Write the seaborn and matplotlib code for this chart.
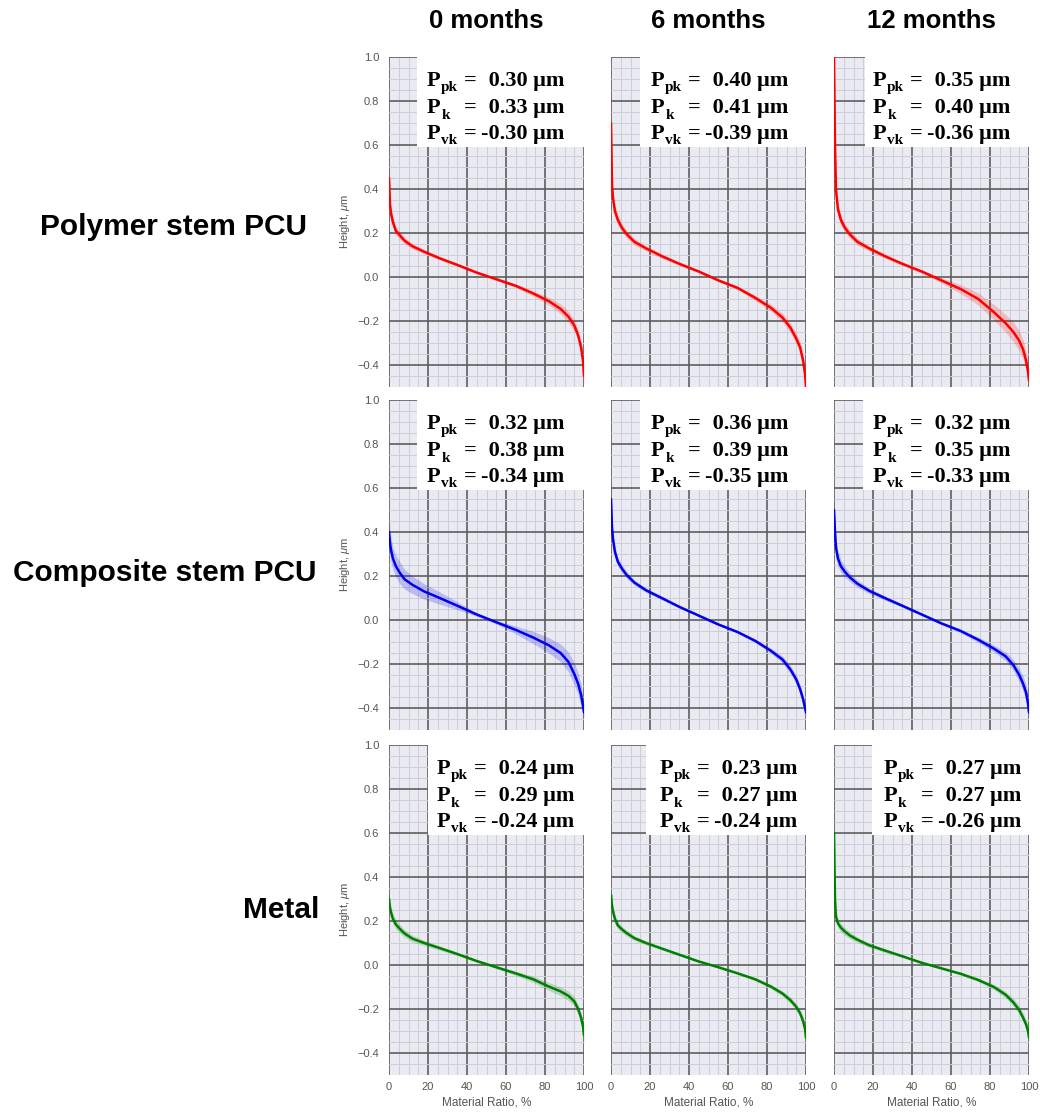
import matplotlib
matplotlib.use("Agg")
import matplotlib.pyplot as plt
import seaborn as sns
import pandas as pd
from matplotlib.ticker import MultipleLocator
from matplotlib.patches import Rectangle

# Material ratio positions (%) at which the mean bearing-area curves are sampled
MR = [0, 0.5, 1, 2, 3.5, 5.5, 8, 12, 18, 26, 35, 45, 55, 65, 74, 82, 88, 92, 95, 97, 98.5, 99.5, 100]

groups = ["Polymer stem PCU", "Composite stem PCU", "Metal"]
times = ["0 months", "6 months", "12 months"]
group_colors = ["#ff0000", "#0000ee", "#008000"]

# Mean height (um) and half-width of the shaded band, per group and time point
poly_0 = [0.45, 0.33, 0.29, 0.25, 0.21, 0.19, 0.165, 0.14, 0.115, 0.085, 0.055, 0.02, -0.01, -0.04, -0.075, -0.11, -0.145, -0.18, -0.22, -0.265, -0.32, -0.38, -0.45]
poly_0_band = [0.2, 0.05, 0.03, 0.025, 0.02, 0.018, 0.015, 0.012, 0.01, 0.008, 0.006, 0.005, 0.006, 0.008, 0.012, 0.018, 0.022, 0.025, 0.025, 0.025, 0.03, 0.04, 0.05]
poly_6 = [0.7, 0.42, 0.36, 0.30, 0.26, 0.225, 0.195, 0.16, 0.13, 0.095, 0.06, 0.025, -0.015, -0.05, -0.095, -0.14, -0.185, -0.23, -0.28, -0.32, -0.38, -0.44, -0.5]
poly_6_band = [0.3, 0.05, 0.035, 0.03, 0.025, 0.02, 0.018, 0.015, 0.012, 0.01, 0.008, 0.006, 0.006, 0.008, 0.012, 0.016, 0.02, 0.022, 0.025, 0.025, 0.025, 0.03, 0.03]
poly_12 = [1.0, 0.6, 0.4, 0.31, 0.26, 0.225, 0.195, 0.16, 0.13, 0.095, 0.06, 0.025, -0.015, -0.055, -0.1, -0.16, -0.21, -0.25, -0.29, -0.33, -0.38, -0.43, -0.47]
poly_12_band = [0.05, 0.05, 0.03, 0.03, 0.025, 0.02, 0.018, 0.015, 0.012, 0.01, 0.008, 0.008, 0.012, 0.02, 0.028, 0.035, 0.04, 0.045, 0.045, 0.045, 0.04, 0.04, 0.04]

comp_0 = [0.40, 0.35, 0.32, 0.28, 0.245, 0.215, 0.185, 0.16, 0.13, 0.10, 0.065, 0.025, -0.01, -0.045, -0.08, -0.115, -0.15, -0.19, -0.245, -0.29, -0.34, -0.39, -0.42]
comp_0_band = [0.08, 0.06, 0.055, 0.05, 0.05, 0.05, 0.045, 0.04, 0.035, 0.028, 0.018, 0.008, 0.008, 0.018, 0.028, 0.035, 0.04, 0.045, 0.05, 0.05, 0.05, 0.04, 0.03]
comp_6 = [0.55, 0.42, 0.37, 0.31, 0.265, 0.235, 0.205, 0.17, 0.135, 0.10, 0.06, 0.02, -0.02, -0.055, -0.095, -0.14, -0.18, -0.225, -0.27, -0.315, -0.36, -0.40, -0.42]
comp_6_band = [0.1, 0.04, 0.03, 0.025, 0.02, 0.018, 0.015, 0.012, 0.01, 0.008, 0.006, 0.005, 0.005, 0.006, 0.008, 0.012, 0.015, 0.018, 0.02, 0.02, 0.02, 0.02, 0.02]
comp_12 = [0.5, 0.40, 0.33, 0.28, 0.245, 0.22, 0.195, 0.165, 0.133, 0.10, 0.065, 0.025, -0.015, -0.05, -0.09, -0.13, -0.165, -0.205, -0.25, -0.29, -0.33, -0.38, -0.42]
comp_12_band = [0.08, 0.05, 0.04, 0.035, 0.03, 0.025, 0.02, 0.016, 0.012, 0.01, 0.007, 0.005, 0.006, 0.008, 0.012, 0.016, 0.02, 0.025, 0.03, 0.035, 0.035, 0.03, 0.03]

metal_0 = [0.30, 0.26, 0.24, 0.21, 0.185, 0.165, 0.143, 0.12, 0.10, 0.077, 0.05, 0.018, -0.01, -0.038, -0.065, -0.098, -0.12, -0.14, -0.165, -0.20, -0.24, -0.28, -0.32]
metal_0_band = [0.04, 0.03, 0.028, 0.025, 0.022, 0.02, 0.018, 0.015, 0.012, 0.01, 0.007, 0.005, 0.006, 0.01, 0.014, 0.018, 0.02, 0.022, 0.022, 0.022, 0.025, 0.03, 0.04]
metal_6 = [0.32, 0.27, 0.245, 0.21, 0.18, 0.163, 0.145, 0.122, 0.10, 0.075, 0.047, 0.016, -0.01, -0.038, -0.065, -0.098, -0.13, -0.16, -0.19, -0.22, -0.255, -0.29, -0.33]
metal_6_band = [0.04, 0.025, 0.022, 0.02, 0.017, 0.015, 0.013, 0.011, 0.009, 0.007, 0.005, 0.004, 0.004, 0.005, 0.007, 0.01, 0.012, 0.014, 0.015, 0.016, 0.02, 0.025, 0.03]
metal_12 = [0.6, 0.30, 0.22, 0.19, 0.17, 0.153, 0.135, 0.115, 0.09, 0.066, 0.04, 0.01, -0.015, -0.04, -0.068, -0.10, -0.135, -0.17, -0.205, -0.24, -0.27, -0.30, -0.33]
metal_12_band = [0.4, 0.04, 0.025, 0.022, 0.02, 0.018, 0.015, 0.012, 0.01, 0.008, 0.006, 0.004, 0.004, 0.006, 0.008, 0.012, 0.015, 0.018, 0.02, 0.02, 0.02, 0.025, 0.03]

curves = [[poly_0, poly_6, poly_12], [comp_0, comp_6, comp_12], [metal_0, metal_6, metal_12]]
bands = [[poly_0_band, poly_6_band, poly_12_band],
         [comp_0_band, comp_6_band, comp_12_band],
         [metal_0_band, metal_6_band, metal_12_band]]

# Functional roughness parameters (um)
Ppk = [[0.30, 0.40, 0.35], [0.32, 0.36, 0.32], [0.24, 0.23, 0.27]]
Pk = [[0.33, 0.41, 0.40], [0.38, 0.39, 0.35], [0.29, 0.27, 0.27]]
Pvk = [[-0.30, -0.39, -0.36], [-0.34, -0.35, -0.33], [-0.24, -0.24, -0.26]]
param_subscripts = ["pk", "k", "vk"]

sns.set_theme(style="darkgrid")
plt.rcParams["font.family"] = ["Liberation Sans", "DejaVu Sans"]
plt.rcParams["mathtext.fontset"] = "custom"
plt.rcParams["mathtext.rm"] = "Liberation Sans"
plt.rcParams["mathtext.it"] = "Liberation Sans:italic"
plt.rcParams["text.color"] = "black"

W, H = 1040, 1119
fig = plt.figure(figsize=(W / 100, H / 100), dpi=100)

col_left = [389, 611, 834]
row_top = [57, 400, 745]
ax_w, ax_h = 195, 330

# left edge of the white parameter box and of its text (axes fraction)
box_left = [[0.144, 0.15, 0.16], [0.144, 0.15, 0.15], [0.20, 0.18, 0.195]]
text_left = [[0.195, 0.205, 0.20], [0.195, 0.205, 0.20], [0.245, 0.25, 0.255]]

serif = dict(family="Liberation Serif", fontweight="bold", color="black")
tick_color = "#555555"

for r in range(3):
    for c in range(3):
        ax = fig.add_axes([col_left[c] / W, 1 - (row_top[r] + ax_h) / H, ax_w / W, ax_h / H])
        ax.set_facecolor("#eaeaf2")
        df = pd.DataFrame({"mr": MR, "h": curves[r][c]})
        lo = [m - b for m, b in zip(curves[r][c], bands[r][c])]
        hi = [m + b for m, b in zip(curves[r][c], bands[r][c])]
        ax.fill_between(MR, lo, hi, color=group_colors[r], alpha=0.2, lw=0, zorder=2)
        sns.lineplot(data=df, x="mr", y="h", ax=ax, color=group_colors[r], lw=1.8, zorder=3)

        ax.set_xlim(0, 100)
        ax.set_ylim(-0.5, 1.0)
        ax.xaxis.set_major_locator(MultipleLocator(20))
        ax.xaxis.set_minor_locator(MultipleLocator(5))
        ax.yaxis.set_major_locator(MultipleLocator(0.2))
        ax.yaxis.set_minor_locator(MultipleLocator(0.05))
        ax.grid(which="major", color="#5e5e5e", lw=1.2)
        ax.grid(which="minor", color="#cdcdd9", lw=0.7)
        ax.set_axisbelow(True)
        for s in ax.spines.values():
            s.set_visible(False)
        ax.tick_params(which="both", length=0, labelsize=8, labelcolor=tick_color, pad=7)

        if c == 0:
            ax.set_ylabel(r"Height, $\mu$m", fontsize=8, color=tick_color, labelpad=4)
        else:
            ax.set_ylabel("")
            ax.set_yticklabels([])
        if r == 2:
            ax.set_xlabel("Material Ratio, %", fontsize=8.5, color=tick_color, labelpad=3)
            ax.tick_params(axis="x", pad=5)
        else:
            ax.set_xlabel("")
            ax.set_xticklabels([])

        # white parameter box
        bx = box_left[r][c]
        ax.add_patch(Rectangle((bx, 0.727), 1 - bx, 0.273, transform=ax.transAxes,
                               facecolor="white", edgecolor="none", zorder=5))
        tx = text_left[r][c]
        values = [Ppk[r][c], Pk[r][c], Pvk[r][c]]
        baselines = [0.913, 0.830, 0.753]
        for sub, val, yb in zip(param_subscripts, values, baselines):
            ax.text(tx, yb, "P", transform=ax.transAxes, va="baseline", ha="left",
                    zorder=6, fontsize=16, **serif)
            ax.text(tx + 0.073, yb - 0.017, sub, transform=ax.transAxes, va="baseline",
                    ha="left", zorder=6, fontsize=11, **serif)
            ax.text(tx + 0.19, yb, "=", transform=ax.transAxes, va="baseline",
                    ha="left", zorder=6, fontsize=16, **serif)
            ax.text(tx + 0.705, yb, f"{val: .2f} \u03bcm", transform=ax.transAxes,
                    va="baseline", ha="right", zorder=6, fontsize=16, **serif)

# column headings
for c, t in enumerate(times):
    fig.text((col_left[c] + ax_w / 2) / W, 1 - 21 / H, t, ha="center", va="center",
             fontsize=18.5, fontweight="bold", color="black")

# row headings
row_label_x = [40, 13, 243]
row_label_y = [227, 573, 910]
for g, x, y in zip(groups, row_label_x, row_label_y):
    fig.text(x / W, 1 - y / H, g, ha="left", va="center", fontsize=21.5,
             fontweight="bold", color="black")

fig.savefig("out.png", dpi=100, facecolor="white")
